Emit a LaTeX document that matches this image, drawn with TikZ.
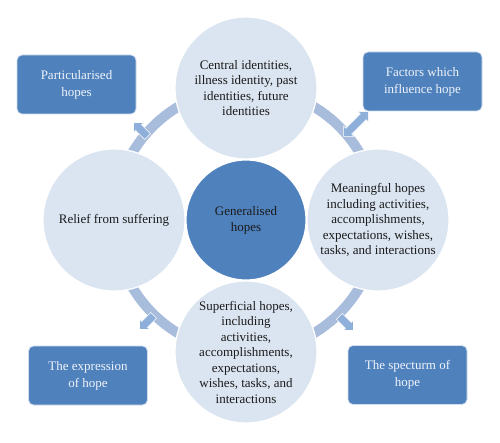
\documentclass[tikz,border=0pt]{standalone}
\usepackage{fontspec}
\setmainfont{Liberation Serif}
\usetikzlibrary{shapes.arrows}
\definecolor{circfill}{HTML}{DBE5F1}
\definecolor{hubfill}{HTML}{4F81BD}
\definecolor{ringc}{HTML}{A8BCDB}
\definecolor{arrowc}{HTML}{8EAFDA}
\definecolor{boxfill}{HTML}{4F81BD}
\definecolor{boxtext}{HTML}{F0F4FA}
\definecolor{darktext}{HTML}{1A1A1A}
\begin{document}
\begin{tikzpicture}[x=1pt,y=1pt,
  outer/.style={circle, fill=circfill, draw=white, line width=1.2pt, minimum size=142pt,
    inner sep=0pt, align=center, font=\fontsize{13}{15.5}\selectfont, text=darktext},
  hubnode/.style={circle, fill=hubfill, draw=white, line width=1.2pt, minimum size=120pt,
    inner sep=0pt, align=center, font=\fontsize{13}{16}\selectfont, text=darktext},
  infobox/.style={rectangle, rounded corners=5pt, fill=boxfill, draw=white!75!boxfill,
    line width=0.8pt, minimum width=119pt, minimum height=59pt, inner sep=2pt,
    align=center, text=boxtext, font=\fontsize{13}{17}\selectfont},
  ringstyle/.style={circle, draw=ringc, line width=10pt, minimum size=264pt, inner sep=0pt},
  sarrow/.style={single arrow, fill=arrowc, draw=white, line width=0.6pt,
    minimum height=20pt, inner sep=3.8pt, single arrow head extend=3.2pt},
  darrow/.style={double arrow, fill=arrowc, draw=white, line width=0.6pt,
    minimum height=35pt, inner sep=3.8pt, double arrow head extend=3.2pt}
]
\useasboundingbox (0,0) rectangle (500,442);
\fill[white] (0,0) rectangle (500,442);
\coordinate (ctr) at (246,222);
\node[ringstyle] (ring) at (ctr) {};
\node[sarrow, rotate=135] (atl) at (142,311) {};
\node[darrow, rotate=45] (atr) at (356,318) {};
\node[sarrow, rotate=225] (abl) at (148,121) {};
\node[sarrow, rotate=-45] (abr) at (345,120) {};
\node[outer] (top) at (246,354) {Central identities,\\illness identity, past\\identities, future\\identities};
\node[outer] (left) at (114,222) {Relief from suffering};
\node[outer] (right) at (378,222) {Meaningful hopes\\including activities,\\accomplishments,\\expectations, wishes,\\tasks, and interactions};
\node[outer] (bottom) at (246,90) {Superficial hopes,\\including\\activities,\\accomplishments,\\expectations,\\wishes, tasks, and\\interactions};
\node[hubnode] (hub) at (ctr) {Generalised\\hopes};
\node[infobox] (part) at (76.5,357.5) {Particularised\\hopes};
\node[infobox] (fact) at (422.5,360.5) {Factors which\\influence hope};
\node[infobox] (expr) at (88,66.5) {The expression\\of hope};
\node[infobox] (spec) at (407.5,67) {The specturm of\\hope};
\end{tikzpicture}
\end{document}
